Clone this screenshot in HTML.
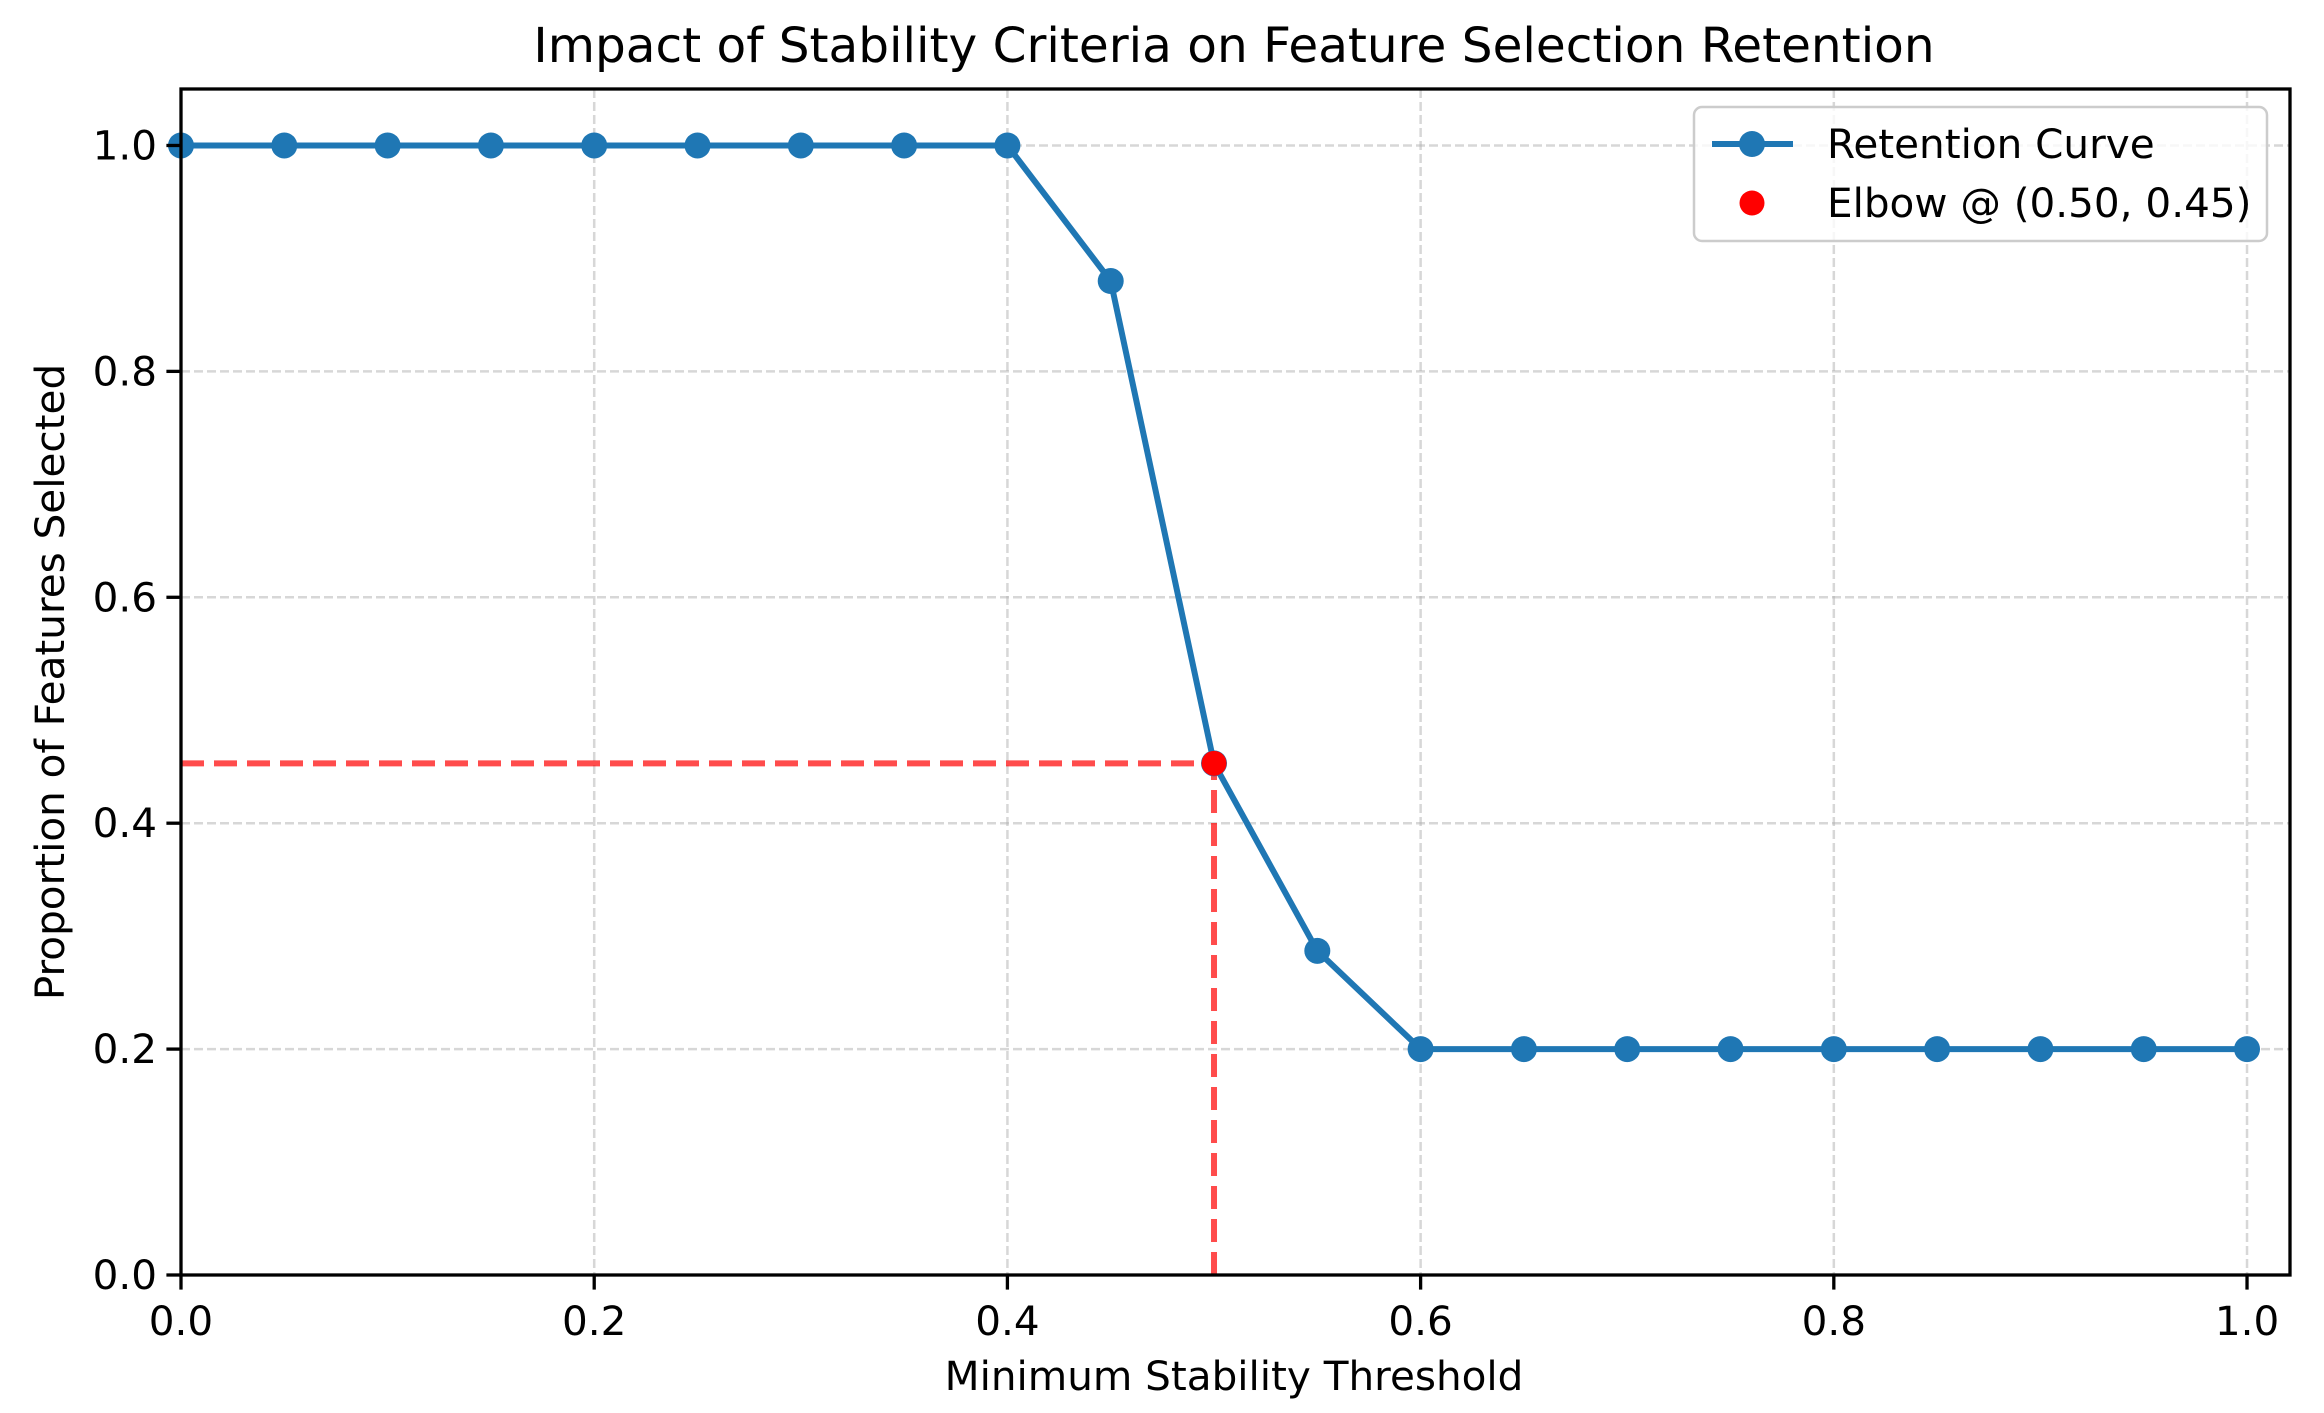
<!DOCTYPE html>
<html><head><meta charset="utf-8"><style>
html,body{margin:0;padding:0;background:#fff;}
svg{display:block;font-family:"DejaVu Sans","Liberation Sans",sans-serif;}
</style></head><body>
<svg id="chart" width="2324" height="1413" viewBox="0 0 2324 1413" xmlns="http://www.w3.org/2000/svg">
<rect width="2324" height="1413" fill="#fff"/>
<g id="grid"></g>
<g id="elbowlines"></g>
<g id="series"></g>
<g id="axes"></g>
<text x="1234" y="62" font-size="48.5" text-anchor="middle">Impact of Stability Criteria on Feature Selection Retention</text>
<text x="1234" y="1390" font-size="40.5" text-anchor="middle">Minimum Stability Threshold</text>
<text transform="translate(64,682) rotate(-90)" font-size="40.5" text-anchor="middle">Proportion of Features Selected</text>
<g>
<rect x="1694" y="107" width="573" height="134" rx="8" fill="#fff" fill-opacity="0.8" stroke="#ccc" stroke-width="2.5"/>
<g>
<line x1="1712" y1="144" x2="1793" y2="144" stroke="#1f77b4" stroke-width="6"/>
<circle cx="1752" cy="144" r="13" fill="#1f77b4"/>
<text x="1827" y="158" font-size="40.5">Retention Curve</text>
</g>
<g>
<circle cx="1752" cy="203" r="12.5" fill="#ff0000"/>
<text x="1827" y="217" font-size="40.5">Elbow @ (0.50, 0.45)</text>
</g>
</g>
</svg>
<script>
const thresholds=[0,0.05,0.1,0.15,0.2,0.25,0.3,0.35,0.4,0.45,0.5,0.55,0.6,0.65,0.7,0.75,0.8,0.85,0.9,0.95,1.0];
const retention=[1,1,1,1,1,1,1,1,1,0.88,0.453,0.287,0.2,0.2,0.2,0.2,0.2,0.2,0.2,0.2,0.2];
const elbowX=0.5;
const elbowY=0.453;
const xTicks=[0,0.2,0.4,0.6,0.8,1.0];
const xTickLabels=["0.0","0.2","0.4","0.6","0.8","1.0"];
const yTicks=[0,0.2,0.4,0.6,0.8,1.0];
const yTickLabels=["0.0","0.2","0.4","0.6","0.8","1.0"];
const L=181,R=2290,T=89,B=1275;
const xmin=0,xmax=1.0208,ymin=0,ymax=1.05;
const sx=v=>L+(v-xmin)/(xmax-xmin)*(R-L);
const sy=v=>B-(v-ymin)/(ymax-ymin)*(B-T);
const NS="http://www.w3.org/2000/svg";
function mk(tag,attrs,parent){const e=document.createElementNS(NS,tag);for(const k in attrs)e.setAttribute(k,attrs[k]);parent.appendChild(e);return e;}
const grid=document.getElementById('grid'),axes=document.getElementById('axes'),series=document.getElementById('series'),el=document.getElementById('elbowlines');
xTicks.forEach((t,i)=>{
  const g=mk('line',{x1:sx(t),x2:sx(t),y1:T,y2:B,stroke:'#b0b0b0','stroke-opacity':0.5,'stroke-width':2.5,'stroke-dasharray':'9 4'},grid);
  
  
  const tk=mk('line',{x1:sx(t),x2:sx(t),y1:B,y2:B+14.6,stroke:'#000','stroke-width':3.3},axes);
  
  
  const tx=mk('text',{x:sx(t),y:B+60,'font-size':40.5,'text-anchor':'middle'},axes);
  tx.textContent=xTickLabels[i];
  
  
});
yTicks.forEach((t,i)=>{
  const g=mk('line',{x1:L,x2:R,y1:sy(t),y2:sy(t),stroke:'#b0b0b0','stroke-opacity':0.5,'stroke-width':2.5,'stroke-dasharray':'9 4'},grid);
  
  
  const tk=mk('line',{x1:L-14.6,x2:L,y1:sy(t),y2:sy(t),stroke:'#000','stroke-width':3.3},axes);
  
  
  const tx=mk('text',{x:L-24,y:sy(t)+14,'font-size':40.5,'text-anchor':'end'},axes);
  tx.textContent=yTickLabels[i];
  
  
});
const hl=mk('line',{x1:sx(0),x2:sx(elbowX),y1:sy(elbowY),y2:sy(elbowY),stroke:'#ff0000','stroke-opacity':0.7,'stroke-width':6,'stroke-dasharray':'23 10'},el);


const vl=mk('line',{x1:sx(elbowX),x2:sx(elbowX),y1:sy(0),y2:sy(elbowY),stroke:'#ff0000','stroke-opacity':0.7,'stroke-width':6,'stroke-dasharray':'23 10'},el);


const pts=thresholds.map((x,i)=>sx(x)+','+sy(retention[i])).join(' ');
const pl=mk('polyline',{points:pts,fill:'none',stroke:'#1f77b4','stroke-width':6,'stroke-linejoin':'round'},series);


thresholds.forEach((x,i)=>{
  const c=mk('circle',{cx:sx(x),cy:sy(retention[i]),r:13,fill:'#1f77b4'},series);
  
  
});
const ep=mk('circle',{cx:sx(elbowX),cy:sy(elbowY),r:12.5,fill:'#ff0000'},series);


const fr=mk('rect',{x:L,y:T,width:R-L,height:B-T,fill:'none',stroke:'#000','stroke-width':3.3},axes);


</script>
</body></html>
